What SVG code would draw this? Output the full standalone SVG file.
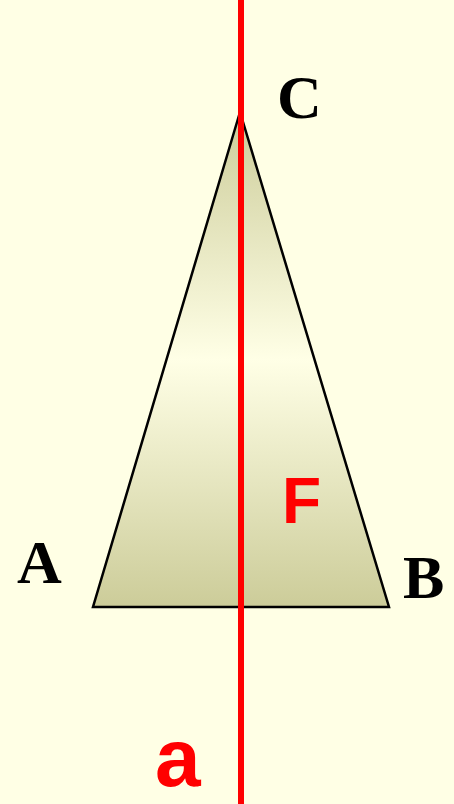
<svg xmlns="http://www.w3.org/2000/svg" width="454" height="804" viewBox="0 0 454 804">
  <style>
    .lbl { font-family: "Liberation Serif", "Times New Roman", serif; font-weight: bold; font-size: 62px; fill: #000; }
    .red { font-family: "Liberation Sans", Arial, sans-serif; font-weight: bold; fill: #FF0000; }
  </style>
  <defs>
    <linearGradient id="g" x1="0" y1="0" x2="0" y2="1">
      <stop offset="0" stop-color="#CCCC99"/>
      <stop offset="0.5" stop-color="#FFFFE6"/>
      <stop offset="1" stop-color="#CCCC99"/>
    </linearGradient>
  </defs>
  <rect width="454" height="804" fill="#FFFFE5"/>
  <g id="triangle">
    <polygon points="240,112 389,607 93,607" fill="url(#g)" stroke="#000" stroke-width="2.5" stroke-linejoin="miter"/>
  </g>
  <g id="connectors">
    <line x1="241" y1="0" x2="241" y2="804" stroke="#FF0000" stroke-width="6"/>
  </g>
  <g id="labels">
    <text class="lbl" x="277" y="118">C</text>
    <text class="lbl" x="17" y="583">A</text>
    <text class="lbl" x="403" y="598">B</text>
    <text class="red" x="282" y="523" font-size="64">F</text>
    <text class="red" x="155" y="786" font-size="82">a</text>
  </g>
</svg>
